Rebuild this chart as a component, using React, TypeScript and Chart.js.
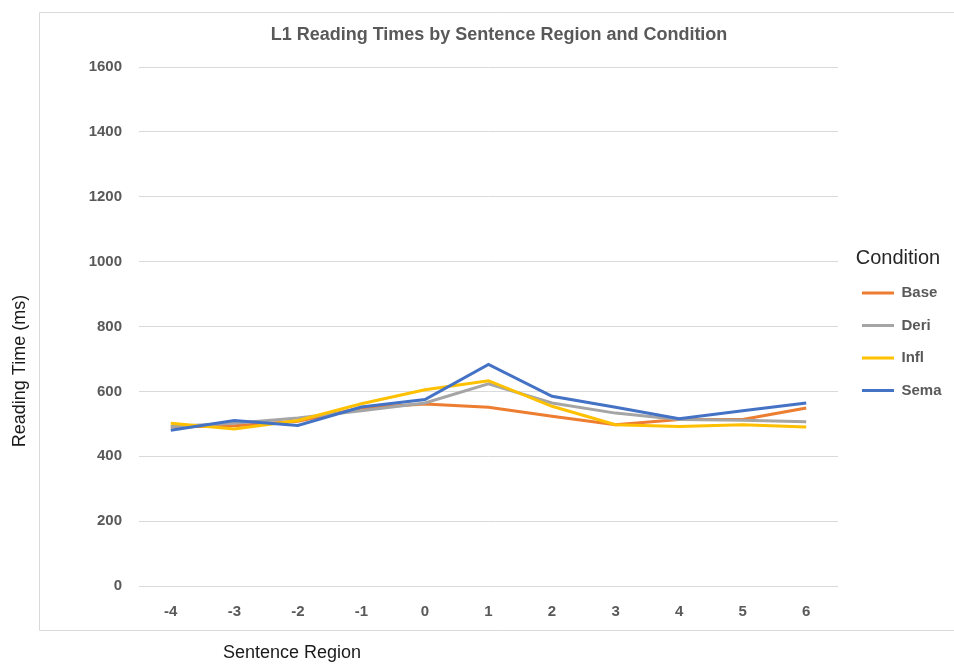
import { useEffect, useRef } from 'react';
import { Chart, registerables } from 'chart.js';

Chart.register(...registerables);

const TITLE = 'L1 Reading Times by Sentence Region and Condition';
const X_TITLE = 'Sentence Region';
const Y_TITLE = 'Reading Time (ms)';
const LEGEND_TITLE = 'Condition';

const regions = ['-4', '-3', '-2', '-1', '0', '1', '2', '3', '4', '5', '6'];
const seriesNames = ['Base', 'Deri', 'Infl', 'Sema'];
const seriesColors = ['#ED7D31', '#A5A5A5', '#FFC000', '#4472C4'];

const base = [490, 494, 508, 549, 561, 551, 523, 497, 513, 513, 549];
const deri = [492, 502, 518, 540, 564, 623, 564, 533, 513, 511, 506];
const infl = [502, 484, 510, 562, 605, 633, 554, 497, 492, 497, 490];
const sema = [480, 510, 495, 552, 575, 683, 585, 551, 516, 540, 564];

const yMin = 0;
const yMax = 1600;
const yStep = 200;

const FONT = "'Liberation Sans', Arial, sans-serif";
const TEXT_GREY = '#595959';

// Frame around the plot and the two axis titles placed outside it.
const framePlugin = {
  id: 'frame',
  beforeDraw(chart: any) {
    const { ctx, width, height } = chart;
    ctx.save();
    ctx.fillStyle = '#ffffff';
    ctx.fillRect(0, 0, width, height);
    ctx.strokeStyle = '#d9d9d9';
    ctx.lineWidth = 1;
    ctx.beginPath();
    ctx.moveTo(width + 5, 12.5);
    ctx.lineTo(39.5, 12.5);
    ctx.lineTo(39.5, 630.5);
    ctx.lineTo(width + 5, 630.5);
    ctx.stroke();
    ctx.restore();
  },
  afterDraw(chart: any) {
    const { ctx } = chart;
    ctx.save();
    ctx.fillStyle = '#1a1a1a';
    ctx.font = `18px ${FONT}`;
    ctx.textAlign = 'center';
    ctx.textBaseline = 'middle';
    ctx.fillText(X_TITLE, 292, 653);
    ctx.translate(20, 371);
    ctx.rotate(-Math.PI / 2);
    ctx.fillText(Y_TITLE, 0, 0);
    ctx.restore();
  },
};

export default function App() {
  const canvasRef = useRef<HTMLCanvasElement | null>(null);

  useEffect(() => {
    if (!canvasRef.current) return;
    const values = [base, deri, infl, sema];
    const chart = new Chart(canvasRef.current, {
      type: 'line',
      data: {
        labels: regions,
        datasets: seriesNames.map((name, i) => ({
          label: name,
          data: values[i],
          borderColor: seriesColors[i],
          backgroundColor: seriesColors[i],
          borderWidth: 3,
          pointRadius: 0,
          pointHoverRadius: 0,
          tension: 0,
          fill: false,
          order: seriesNames.length - i,
        })),
      },
      options: {
        animation: false,
        responsive: false,
        devicePixelRatio: 1,
        layout: { padding: { left: 46.5, right: 2.5, top: 12, bottom: 17.5 } },
        plugins: {
          title: {
            display: true,
            text: TITLE,
            color: TEXT_GREY,
            font: { family: FONT, size: 18, weight: 'bold', lineHeight: 1.2 },
            padding: { top: 12.2, bottom: 21.2 },
          },
          legend: {
            display: true,
            position: 'right',
            align: 'center',
            title: {
              display: true,
              text: LEGEND_TITLE,
              color: '#262626',
              position: 'center',
              font: { family: FONT, size: 20, weight: 'normal', lineHeight: 1 },
              padding: { top: 0, bottom: 0 },
            },
            labels: {
              color: TEXT_GREY,
              font: { family: FONT, size: 15, weight: 'bold' },
              usePointStyle: true,
              pointStyle: 'line',
              pointStyleWidth: 32,
              padding: 17.5,
              sort: (a: any, b: any) => a.datasetIndex - b.datasetIndex,
            },
          },
          tooltip: { enabled: false },
        },
        scales: {
          x: {
            type: 'category',
            offset: true,
            grid: { display: false, drawTicks: false },
            border: { display: false },
            ticks: {
              color: TEXT_GREY,
              font: { family: FONT, size: 15, weight: 'bold' },
              padding: 17,
              maxRotation: 0,
            },
            afterFit: (s: any) => {
              s.height = 65.5;
            },
          },
          y: {
            type: 'linear',
            min: yMin,
            max: yMax,
            grid: { color: '#d9d9d9', lineWidth: 1, drawTicks: false },
            border: { display: false },
            ticks: {
              stepSize: yStep,
              color: TEXT_GREY,
              font: { family: FONT, size: 15, weight: 'bold' },
              padding: 17,
              format: { useGrouping: false },
            },
            afterFit: (s: any) => {
              s.width = 92.5;
            },
          },
          gap: {
            type: 'linear',
            position: 'right',
            display: true,
            grid: { display: false, drawTicks: false },
            border: { display: false },
            ticks: { display: false },
            afterFit: (s: any) => {
              s.width = 6.5;
            },
          },
        },
      },
      plugins: [framePlugin],
    });
    return () => chart.destroy();
  }, []);

  return (
    <div style={{ position: 'absolute', left: 0, top: 0, width: 954, height: 669 }}>
      <canvas ref={canvasRef} width={954} height={669} style={{ display: 'block' }} />
    </div>
  );
}
